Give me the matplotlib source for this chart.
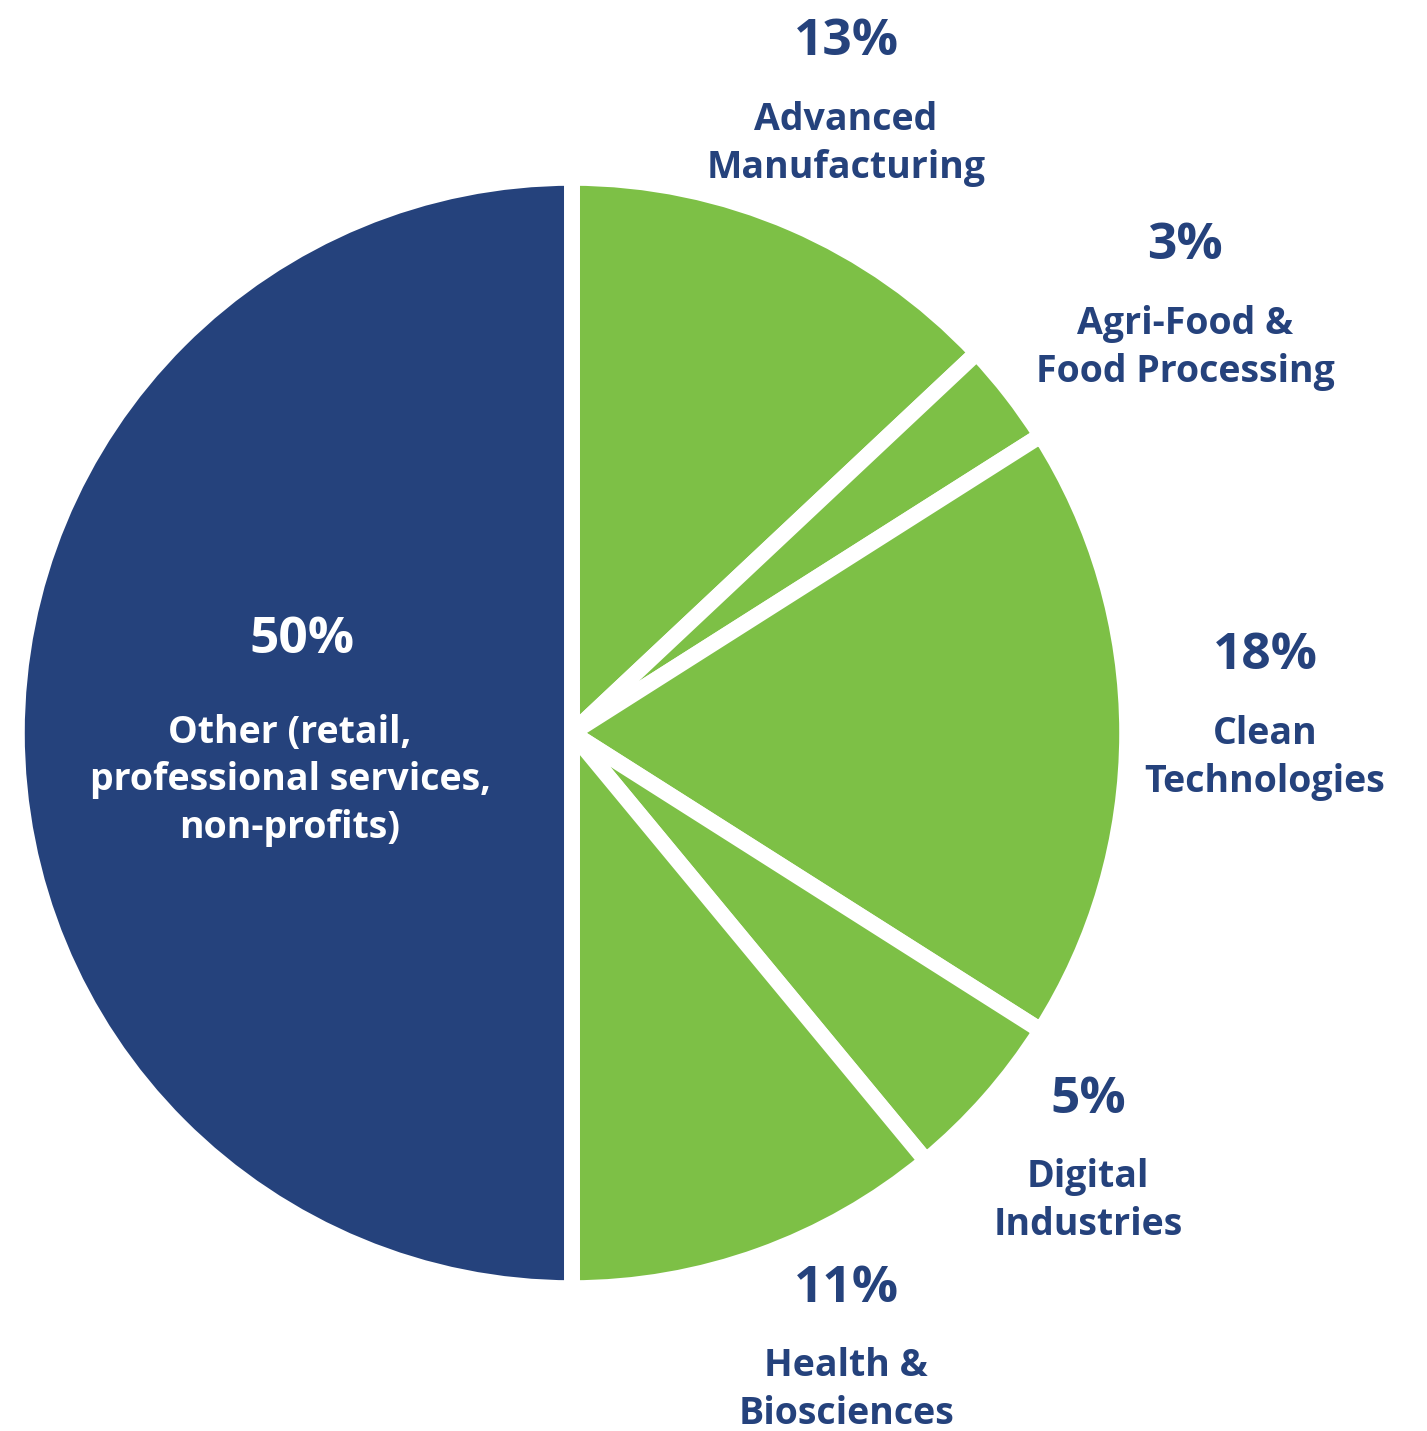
import matplotlib
matplotlib.use("Agg")
import matplotlib.pyplot as plt

# data
categories = ["Advanced\nManufacturing", "Agri-Food &\nFood Processing", "Clean\nTechnologies",
              "Digital\nIndustries", "Health &\nBiosciences",
              "Other (retail,\nprofessional services,\nnon-profits)"]
shares = [13, 3, 18, 5, 11, 50]
pct_labels = ["13%", "3%", "18%", "5%", "11%", "50%"]

navy = "#25427C"
green = "#7DC046"
colors = [green, green, green, green, green, navy]

plt.rcParams['font.family'] = ['Open Sans', 'DejaVu Sans']

# label anchors in pixels of the picture
# (x of pct, baseline of pct, x of label, baseline of last label line)
cx, cy, R = 572, 733, 547
anchors = [(846, 55, 846, 178), (1185, 259, 1185, 382), (1265, 669, 1265, 792),
           (1088, 1113, 1088, 1235), (846, 1302, 846, 1424), (302, 653, 290, 838)]


def to_data(px, py):
    return (px - cx) / R, (cy - py) / R


fig = plt.figure(figsize=(14.27, 14.31), dpi=100)
ax = fig.add_axes([0, 0, 1, 1])

ax.pie(shares, colors=colors, startangle=90, counterclock=False, radius=1.015,
       wedgeprops=dict(edgecolor='white', linewidth=11.5))

for i in range(len(shares)):
    px, pb, lx, lb = anchors[i]
    tc = 'white' if colors[i] == navy else navy
    x, y = to_data(px, pb)
    ax.text(x, y, pct_labels[i], ha='center', va='baseline', color=tc,
            fontsize=37, fontweight='bold')
    x, y = to_data(lx, lb)
    ax.text(x, y, categories[i], ha='center', va='baseline', color=tc,
            fontsize=27, fontweight='bold', multialignment='center', linespacing=1.33)

ax.set_xlim(-cx / R, (1427 - cx) / R)
ax.set_ylim((cy - 1431) / R, cy / R)
ax.set_aspect('equal')
ax.axis('off')

fig.savefig("out.png", dpi=100, facecolor='white')
